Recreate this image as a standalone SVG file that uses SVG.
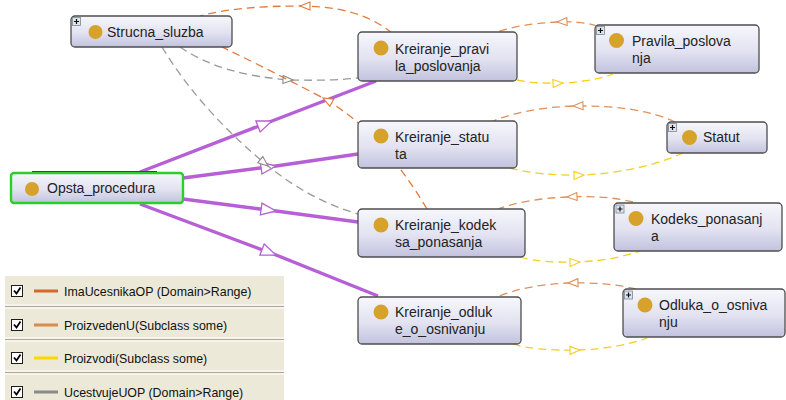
<svg xmlns="http://www.w3.org/2000/svg" width="786" height="400" viewBox="0 0 786 400">
  <defs>
    <linearGradient id="nodeFill" x1="0" y1="0" x2="0" y2="1">
      <stop offset="0" stop-color="#f7f7fc"/>
      <stop offset="0.55" stop-color="#e2e2f1"/>
      <stop offset="1" stop-color="#c2c2de"/>
    </linearGradient>
    <marker id="arrowPurple" markerUnits="userSpaceOnUse" markerWidth="20" markerHeight="16" refX="16" refY="7" orient="auto" viewBox="0 0 20 16">
      <path d="M1,1 L16,7 L1,13 Z" fill="#ffffff" stroke="#b65fd6" stroke-width="1.3"/>
    </marker>
    <marker id="arrowGray" markerUnits="userSpaceOnUse" markerWidth="14" markerHeight="12" refX="11" refY="5" orient="auto" viewBox="0 0 14 12">
      <path d="M1,1 L11,5 L1,9 Z" fill="#ffffff" stroke="#8a8a8a" stroke-width="1.1"/>
    </marker>
    <marker id="arrowOrange" markerUnits="userSpaceOnUse" markerWidth="14" markerHeight="12" refX="11" refY="5" orient="auto" viewBox="0 0 14 12">
      <path d="M1,1 L11,5 L1,9 Z" fill="#ffffff" stroke="#e0905a" stroke-width="1.1"/>
    </marker>
    <marker id="arrowOrangeDark" markerUnits="userSpaceOnUse" markerWidth="14" markerHeight="12" refX="11" refY="5" orient="auto" viewBox="0 0 14 12">
      <path d="M1,1 L11,5 L1,9 Z" fill="#ffffff" stroke="#e07a3c" stroke-width="1.1"/>
    </marker>
    <marker id="arrowYellow" markerUnits="userSpaceOnUse" markerWidth="14" markerHeight="12" refX="11" refY="5" orient="auto" viewBox="0 0 14 12">
      <path d="M1,1 L11,5 L1,9 Z" fill="#ffffff" stroke="#f5cf1e" stroke-width="1.1"/>
    </marker>
  </defs>
  <style>
    .node { fill: url(#nodeFill); stroke: #4e4e4e; stroke-width: 1.3; }
    .focus { fill: url(#nodeFill); stroke: #28d028; stroke-width: 2.4; }
    .dot { fill: #d6a22c; }
    .label { font-family: "Liberation Sans", Arial, sans-serif; font-size: 14px; fill: #222222; }
    .plusBox { fill: #dde4ec; stroke: #7a8796; stroke-width: 0.8; }
    .plusMark { stroke: #111111; stroke-width: 1.2; }
    .isA { fill: none; stroke: #b65fd6; stroke-width: 3.4; marker-mid: url(#arrowPurple); }
    .ucestvuje { fill: none; stroke: #9a9a9a; stroke-width: 1.3; stroke-dasharray: 8 5; marker-mid: url(#arrowGray); }
    .imaUcesnika { fill: none; stroke: #e07a3c; stroke-width: 1.3; stroke-dasharray: 8 5; marker-mid: url(#arrowOrangeDark); }
    .proizvedenU { fill: none; stroke: #e0905a; stroke-width: 1.3; stroke-dasharray: 8 5; marker-mid: url(#arrowOrange); }
    .proizvodi { fill: none; stroke: #f5cf1e; stroke-width: 1.3; stroke-dasharray: 8 5; marker-mid: url(#arrowYellow); }
    .legendText { font-family: "Liberation Sans", Arial, sans-serif; font-size: 12.4px; fill: #111111; }
    .check { fill: #ffffff; stroke: #1c1c1c; stroke-width: 1; }
    .tick { fill: none; stroke: #000000; stroke-width: 1.8; }
  </style>

  <rect width="786" height="400" fill="#ffffff"/>

  <!-- connectors -->
  <g id="connectors">
    <!-- subclass edges from Opsta_procedura -->
    <path class="isA" d="M140,172 L272,121 L376,81"/>
    <path class="isA" d="M183,178 L276,166 L358,154"/>
    <path class="isA" d="M183,199 L276,211 L358,222"/>
    <path class="isA" d="M140,204 L276,255 L378,296"/>

    <!-- UcestvujeUOP -->
    <path class="ucestvuje" d="M180,47 Q222,76 293,80 Q330,81 358,78"/>
    <path class="ucestvuje" d="M162,47 Q200,110 268,166 Q310,200 358,214"/>

    <!-- ImaUcesnikaOP -->
    <path class="imaUcesnika" d="M392,33 C370,15 340,6 300,6 C260,6 225,9 200,16"/>
    <path class="imaUcesnika" d="M427,209 Q380,130 323,98 Q270,70 222,47"/>

    <!-- ProizvedenU -->
    <path class="proizvedenU" d="M597,26 Q582,21 557,22 Q520,24 497,32"/>
    <path class="proizvedenU" d="M675,122 Q640,105 573,106 Q525,108 493,121"/>
    <path class="proizvedenU" d="M633,202 Q605,195 567,197 Q525,199 498,209"/>
    <path class="proizvedenU" d="M636,289 Q608,282 568,283 Q525,285 497,297"/>

    <!-- Proizvodi -->
    <path class="proizvodi" d="M517,80 Q535,84 563,83 Q595,81 613,74"/>
    <path class="proizvodi" d="M510,168 Q540,176 584,175 Q640,172 683,153"/>
    <path class="proizvodi" d="M520,257 Q540,263 580,262 Q615,260 640,251"/>
    <path class="proizvodi" d="M513,344 Q535,351 580,350 Q620,348 647,338"/>
  </g>

  <!-- nodes -->
  <g id="strucna_sluzba">
    <rect class="node" x="71" y="16" width="161" height="31" rx="4"/>
    <rect class="plusBox" x="72.5" y="17.5" width="8" height="8"/>
    <path class="plusMark" d="M74,21.5 H79 M76.5,19 V24"/>
    <circle class="dot" cx="95.5" cy="32" r="7"/>
    <text class="label" x="107" y="37">Strucna_sluzba</text>
  </g>

  <g id="kreiranje_pravila_poslovanja">
    <rect class="node" x="358" y="32" width="159" height="49" rx="4"/>
    <circle class="dot" cx="381" cy="48" r="7.5"/>
    <text class="label" x="395" y="54">Kreiranje_pravi</text>
    <text class="label" x="395" y="71">la_poslovanja</text>
  </g>

  <g id="pravila_poslovanja">
    <rect class="node" x="595" y="25" width="164" height="48" rx="4"/>
    <rect class="plusBox" x="596.5" y="26.5" width="8" height="8"/>
    <path class="plusMark" d="M598,30.5 H603 M600.5,28 V33"/>
    <circle class="dot" cx="616.5" cy="40.5" r="7.5"/>
    <text class="label" x="632" y="46">Pravila_poslova</text>
    <text class="label" x="632" y="63">nja</text>
  </g>

  <g id="kreiranje_statuta">
    <rect class="node" x="358" y="121" width="159" height="47" rx="4"/>
    <circle class="dot" cx="381" cy="136" r="7.5"/>
    <text class="label" x="395" y="142">Kreiranje_statu</text>
    <text class="label" x="395" y="159">ta</text>
  </g>

  <g id="statut">
    <rect class="node" x="667" y="122" width="100" height="31" rx="4"/>
    <rect class="plusBox" x="668.5" y="123.5" width="8" height="8"/>
    <path class="plusMark" d="M670,127.5 H675 M672.5,125 V130"/>
    <circle class="dot" cx="689.5" cy="137.5" r="7.5"/>
    <text class="label" x="703" y="142">Statut</text>
  </g>

  <g id="opsta_procedura">
    <line x1="32" y1="171.8" x2="157" y2="171.8" stroke="#2a2a2a" stroke-width="1.6"/>
    <rect class="focus" x="11" y="173" width="172" height="30" rx="3"/>
    <circle class="dot" cx="32" cy="189" r="7"/>
    <text class="label" x="47" y="193">Opsta_procedura</text>
  </g>

  <g id="kreiranje_kodeksa_ponasanja">
    <rect class="node" x="358" y="209" width="167" height="48" rx="4"/>
    <circle class="dot" cx="381" cy="225" r="7.5"/>
    <text class="label" x="395" y="230">Kreiranje_kodek</text>
    <text class="label" x="395" y="247">sa_ponasanja</text>
  </g>

  <g id="kodeks_ponasanja">
    <rect class="node" x="614" y="203" width="168" height="48" rx="4"/>
    <rect class="plusBox" x="616" y="205" width="8" height="8"/>
    <path class="plusMark" d="M617.5,209 H622.5 M620,206.5 V211.5"/>
    <circle class="dot" cx="636" cy="218.5" r="7.5"/>
    <text class="label" x="651" y="224">Kodeks_ponasanj</text>
    <text class="label" x="651" y="241">a</text>
  </g>

  <g id="kreiranje_odluke_o_osnivanju">
    <rect class="node" x="358" y="297" width="163" height="47" rx="4"/>
    <circle class="dot" cx="381" cy="312" r="7.5"/>
    <text class="label" x="395" y="317">Kreiranje_odluk</text>
    <text class="label" x="395" y="334">e_o_osnivanju</text>
  </g>

  <g id="odluka_o_osnivanju">
    <rect class="node" x="623" y="289" width="162" height="48" rx="4"/>
    <rect class="plusBox" x="624.5" y="291" width="8" height="8"/>
    <path class="plusMark" d="M626,295 H631 M628.5,292.5 V297.5"/>
    <circle class="dot" cx="645" cy="305" r="7.5"/>
    <text class="label" x="659" y="310">Odluka_o_osniva</text>
    <text class="label" x="659" y="327">nju</text>
  </g>

  <!-- legend -->
  <g id="legend">
    <rect x="5" y="276" width="279" height="124" fill="#ece9d8"/>
    <line x1="5" y1="305" x2="284" y2="305" stroke="#ffffff" stroke-width="1"/>
    <line x1="5" y1="306.5" x2="284" y2="306.5" stroke="#aca899" stroke-width="1"/>
    <line x1="5" y1="308" x2="284" y2="308" stroke="#ffffff" stroke-width="1"/>
    <line x1="5" y1="338" x2="284" y2="338" stroke="#ffffff" stroke-width="1"/>
    <line x1="5" y1="339.5" x2="284" y2="339.5" stroke="#aca899" stroke-width="1"/>
    <line x1="5" y1="341" x2="284" y2="341" stroke="#ffffff" stroke-width="1"/>
    <line x1="5" y1="371" x2="284" y2="371" stroke="#ffffff" stroke-width="1"/>
    <line x1="5" y1="372.5" x2="284" y2="372.5" stroke="#aca899" stroke-width="1"/>
    <line x1="5" y1="374" x2="284" y2="374" stroke="#ffffff" stroke-width="1"/>

    <rect class="check" x="11.5" y="285.5" width="11" height="11"/>
    <path class="tick" d="M14,290.5 L16.5,293.5 L20.5,287.5"/>
    <line x1="34" y1="291" x2="58" y2="291" stroke="#d9662a" stroke-width="3"/>
    <text class="legendText" x="64" y="295.5">ImaUcesnikaOP (Domain&gt;Range)</text>

    <rect class="check" x="11.5" y="319.5" width="11" height="11"/>
    <path class="tick" d="M14,324.5 L16.5,327.5 L20.5,321.5"/>
    <line x1="34" y1="325" x2="58" y2="325" stroke="#d98b50" stroke-width="3"/>
    <text class="legendText" x="64" y="329.5">ProizvedenU(Subclass some)</text>

    <rect class="check" x="11.5" y="352.5" width="11" height="11"/>
    <path class="tick" d="M14,357.5 L16.5,360.5 L20.5,354.5"/>
    <line x1="34" y1="358" x2="58" y2="358" stroke="#ffd700" stroke-width="3"/>
    <text class="legendText" x="64" y="362.5">Proizvodi(Subclass some)</text>

    <rect class="check" x="11.5" y="386.5" width="11" height="11"/>
    <path class="tick" d="M14,391.5 L16.5,394.5 L20.5,388.5"/>
    <line x1="34" y1="392" x2="58" y2="392" stroke="#8a8a8a" stroke-width="3"/>
    <text class="legendText" x="64" y="396.5">UcestvujeUOP (Domain&gt;Range)</text>
  </g>
</svg>
